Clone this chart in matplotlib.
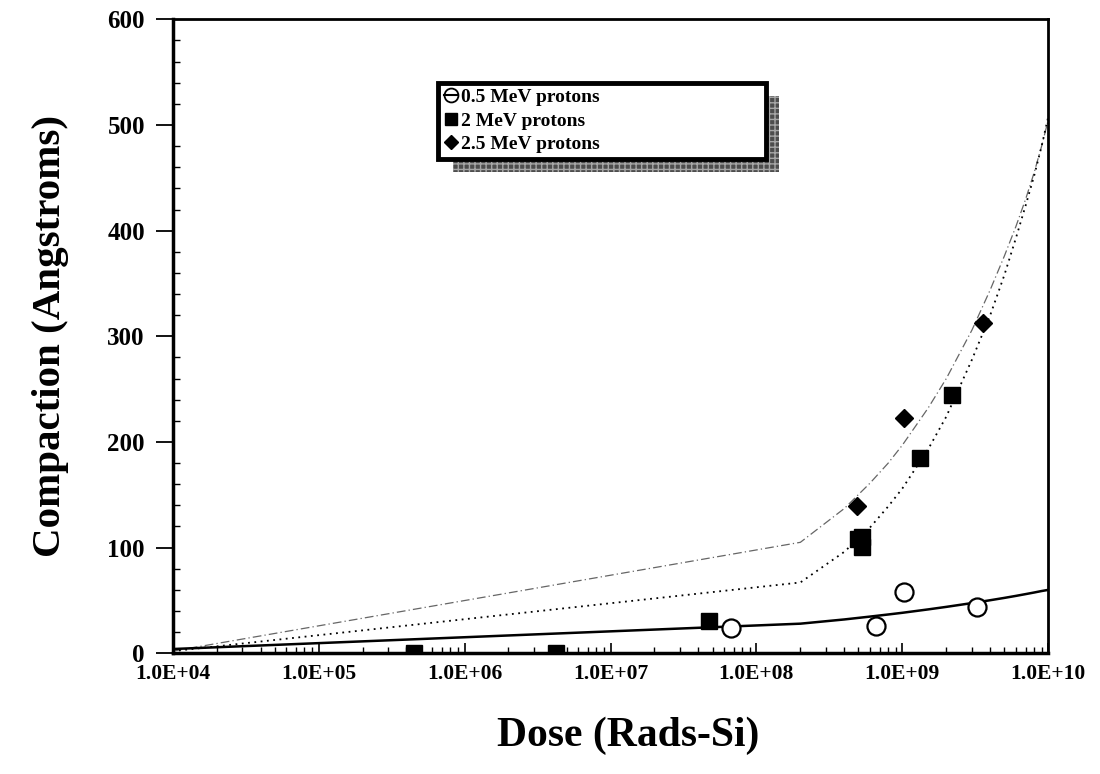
import numpy as np
import matplotlib.pyplot as plt
from matplotlib.patches import Rectangle
from matplotlib.ticker import FixedLocator, MultipleLocator, NullFormatter

plt.rcParams['font.family'] = ['Liberation Serif', 'DejaVu Serif']
plt.rcParams['font.weight'] = 'bold'

# measured points
dose_05 = [6.7e7, 6.6e8, 1.03e9, 3.27e9]
comp_05 = [23.5, 25.5, 57.7, 43.5]

dose_2 = [4.5e5, 4.2e6, 4.7e7, 5.0e8, 5.3e8, 5.3e8, 1.33e9, 2.2e9]
comp_2 = [0.5, 0.5, 31, 108, 110, 101, 185, 244]

dose_25 = [4.85e8, 1.03e9, 3.59e9]
comp_25 = [139, 223, 313]

# trend lines
trend_x = [1e4, 2e8, 4e8, 6e8, 8e8, 1e9, 1.5e9, 2e9, 3e9, 4e9, 5e9, 6e9, 7e9, 8e9, 9e9, 1e10]
trend_05 = [4, 28, 32, 34.7, 36.7, 38.3, 41.5, 43.9, 47.5, 50.2, 52.4, 54.3, 56, 57.5, 58.9, 60]
trend_2 = [2, 67, 96, 119, 139, 156, 193, 224, 278, 320, 358, 393, 424, 452, 480, 508]
trend_25 = [2, 105, 137, 161, 180, 197, 232, 260, 306, 344, 376, 404, 430, 455, 480, 505]

xticks = [1e4, 1e5, 1e6, 1e7, 1e8, 1e9, 1e10]
xlabels = ['1.0E+04', '1.0E+05', '1.0E+06', '1.0E+07', '1.0E+08', '1.0E+09', '1.0E+10']
series_names = ['0.5 MeV protons', '2 MeV protons', '2.5 MeV protons']

fig = plt.figure(figsize=(11, 7.74), dpi=100)
ax = fig.add_axes([0.157, 0.156, 0.796, 0.819])

ax.plot(trend_x, trend_25, color='0.4', lw=0.9, ls=(0, (7, 2.5, 1, 2.5)), zorder=2)
ax.plot(trend_x, trend_2, color='black', lw=1.3, ls=(0, (1, 2.5)), zorder=2)
ax.plot(trend_x, trend_05, color='black', lw=1.8, ls='-', zorder=2)

ax.plot(dose_05, comp_05, 'o', mfc='white', mec='black', mew=1.6, ms=13, zorder=3)
ax.plot(dose_2, comp_2, 's', color='black', ms=11, zorder=3)
ax.plot(dose_25, comp_25, 'D', color='black', ms=9, zorder=3)

ax.set_xscale('log')
ax.set_xlim(1e4, 1e10)
ax.set_ylim(0, 600)

ax.xaxis.set_major_locator(FixedLocator(xticks))
ax.set_xticklabels(xlabels)
ax.xaxis.set_minor_locator(FixedLocator([m * 10.0 ** e for e in range(4, 10) for m in range(2, 10)]))
ax.xaxis.set_minor_formatter(NullFormatter())
ax.yaxis.set_major_locator(MultipleLocator(100))
ax.yaxis.set_minor_locator(MultipleLocator(20))

ax.tick_params(axis='x', which='major', direction='in', length=7, width=1.2, labelsize=15.5, pad=8)
ax.tick_params(axis='x', which='minor', direction='in', length=4, width=1.0)
ax.tick_params(axis='y', which='major', direction='out', length=12, width=1.3, labelsize=18, pad=8)
ax.tick_params(axis='y', which='minor', direction='in', length=5, width=1.0)
for lab in ax.get_xticklabels() + ax.get_yticklabels():
    lab.set_fontweight('bold')

for side in ['left', 'bottom']:
    ax.spines[side].set_linewidth(2.5)
for side in ['top', 'right']:
    ax.spines[side].set_linewidth(2.0)

ax.set_xlabel('Dose (Rads-Si)', fontsize=30, fontweight='bold')
ax.set_ylabel('Compaction (Angstroms)', fontsize=29.5, fontweight='bold')
ax.xaxis.set_label_coords(0.52, -0.10)
ax.yaxis.set_label_coords(-0.118, 0.5)

h1 = plt.Line2D([], [], color='black', lw=1.5, marker='o', mfc='none', mec='black', mew=1.3, ms=10)
h2 = plt.Line2D([], [], color='black', lw=0, marker='s', ms=9)
h3 = plt.Line2D([], [], color='black', lw=0, marker='D', ms=7)
leg = ax.legend([h1, h2, h3], series_names,
                loc='upper left', bbox_to_anchor=(0.303, 0.80, 0.375, 0.1), mode='expand',
                handlelength=0.7, handletextpad=0.2, borderpad=0.3, labelspacing=0.3,
                borderaxespad=0, fancybox=False, framealpha=1, edgecolor='black',
                prop={'family': 'Liberation Serif', 'weight': 'bold', 'size': 14})
leg.get_frame().set_linewidth(3.5)
leg.set_zorder(6)

fig.canvas.draw()
bb = leg.get_frame().get_window_extent()
inv = fig.transFigure.inverted()
(x0, y0), (x1, y1) = inv.transform([[bb.x0 + 15, bb.y0 - 13], [bb.x1 + 13, bb.y1 - 13]])
shadow = Rectangle((x0, y0), x1 - x0, y1 - y0, transform=fig.transFigure, clip_on=False,
                   facecolor='0.3', edgecolor='0.65', hatch='+++', lw=0, zorder=4)
ax.add_patch(shadow)

fig.savefig('out.png', dpi=100)
